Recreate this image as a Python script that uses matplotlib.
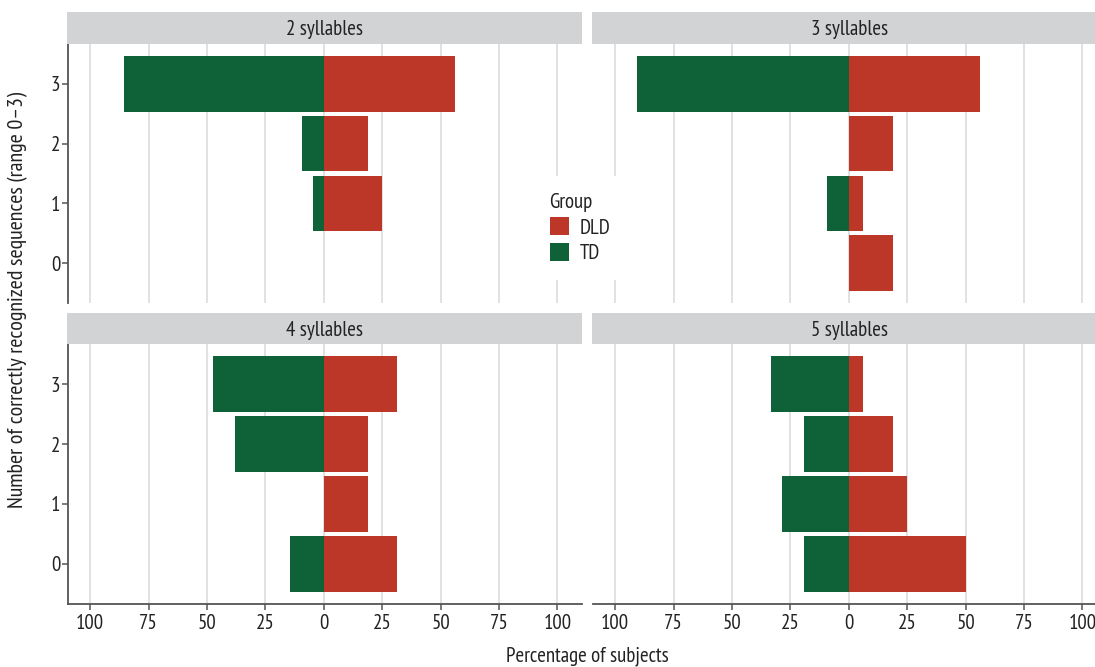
import matplotlib
matplotlib.use("Agg")
import matplotlib.pyplot as plt
from matplotlib.patches import Patch
from matplotlib.ticker import FixedLocator, FixedFormatter

plt.rcParams['font.family'] = ['PT Sans Narrow', 'DejaVu Sans']

# ---- data ----
panels = ["2 syllables", "3 syllables", "4 syllables", "5 syllables"]
categories = [0, 1, 2, 3]
td_2 = [0.0, 4.8, 9.5, 85.7]
dld_2 = [0.0, 25.0, 18.8, 56.2]
td_3 = [0.0, 9.5, 0.0, 90.5]
dld_3 = [18.8, 6.2, 18.8, 56.2]
td_4 = [14.3, 0.0, 38.1, 47.6]
dld_4 = [31.2, 18.8, 18.8, 31.2]
td_5 = [19.0, 28.6, 19.0, 33.3]
dld_5 = [50.0, 25.0, 18.8, 6.2]
td_values = [td_2, td_3, td_4, td_5]
dld_values = [dld_2, dld_3, dld_4, dld_5]
x_ticks = [-100, -75, -50, -25, 0, 25, 50, 75, 100]
x_tick_labels = ["100", "75", "50", "25", "0", "25", "50", "75", "100"]
groups = ["DLD", "TD"]

# ---- style ----
RED = "#BC3727"
GREEN = "#0F6137"
STRIP = "#D2D3D5"
GRID = "#D9D9D9"
AXIS = "#555555"
TXT = "#222222"
FS = 15

W, H = 1095, 667
fig = plt.figure(figsize=(W / 100, H / 100), dpi=100)

def fx(px):
    return px / W

def fy(py):
    return 1 - py / H

col_x = [68, 593]
panel_w = 514
row_y = [(44, 303), (344, 604)]
strip_y = [(12, 44), (313, 344)]

for i, name in enumerate(panels):
    r, c = divmod(i, 2)
    x0 = col_x[c]
    y_top, y_bot = row_y[r]
    ax = fig.add_axes([fx(x0), fy(y_bot), fx(panel_w), (y_bot - y_top) / H])
    ax.set_xlim(-109.5, 110.5)
    ax.set_ylim(-0.67, 3.67)
    ax.barh(categories, [-v for v in td_values[i]], height=0.93, color=GREEN, linewidth=0)
    ax.barh(categories, dld_values[i], height=0.93, color=RED, linewidth=0)
    ax.xaxis.set_major_locator(FixedLocator(x_ticks))
    ax.xaxis.set_major_formatter(FixedFormatter(x_tick_labels))
    ax.set_yticks(categories)
    ax.grid(axis="x", color=GRID, linewidth=1.1)
    ax.set_axisbelow(True)
    for s in ["top", "right"]:
        ax.spines[s].set_visible(False)
    ax.spines["left"].set_visible(c == 0)
    ax.spines["bottom"].set_visible(r == 1)
    for s in ["left", "bottom"]:
        ax.spines[s].set_color(AXIS)
        ax.spines[s].set_linewidth(1.3)
    ax.tick_params(axis="y", left=(c == 0), labelleft=(c == 0), length=4, width=1.1,
                   color=AXIS, pad=1.5, labelsize=FS, labelcolor=TXT)
    ax.tick_params(axis="x", bottom=(r == 1), labelbottom=(r == 1), length=4, width=1.1,
                   color=AXIS, pad=3, labelsize=FS, labelcolor=TXT)
    # strip
    sy0, sy1 = strip_y[r]
    sx = fig.add_axes([fx(x0 - 1), fy(sy1), fx(panel_w + 1), (sy1 - sy0) / H])
    sx.set_facecolor(STRIP)
    sx.set_xticks([])
    sx.set_yticks([])
    for s in sx.spines.values():
        s.set_visible(False)
    sx.text(0.5, 0.45, name, ha="center", va="center", fontsize=FS, color=TXT,
            transform=sx.transAxes)

fig.text(fx(18), fy(300), "Number of correctly recognized sequences (range 0\u20133)",
         rotation=90, ha="center", va="center", fontsize=15.8, color=TXT)
fig.text(fx(587), fy(656), "Percentage of subjects", ha="center", va="center",
         fontsize=FS, color=TXT)

handles = [Patch(facecolor=RED, edgecolor="none"), Patch(facecolor=GREEN, edgecolor="none")]
leg = fig.legend(handles, groups, title="Group", loc="center",
                 bbox_to_anchor=(fx(580), fy(228)), frameon=True, fancybox=False,
                 edgecolor="none", facecolor="white", framealpha=1,
                 fontsize=FS, title_fontsize=FS, handlelength=0.95, handleheight=0.95,
                 handletextpad=0.5, labelspacing=0.25, borderpad=0.8,
                 alignment="left", labelcolor=TXT)
leg.get_title().set_color(TXT)
leg.set_zorder(10)

fig.savefig("out.png", dpi=100)
